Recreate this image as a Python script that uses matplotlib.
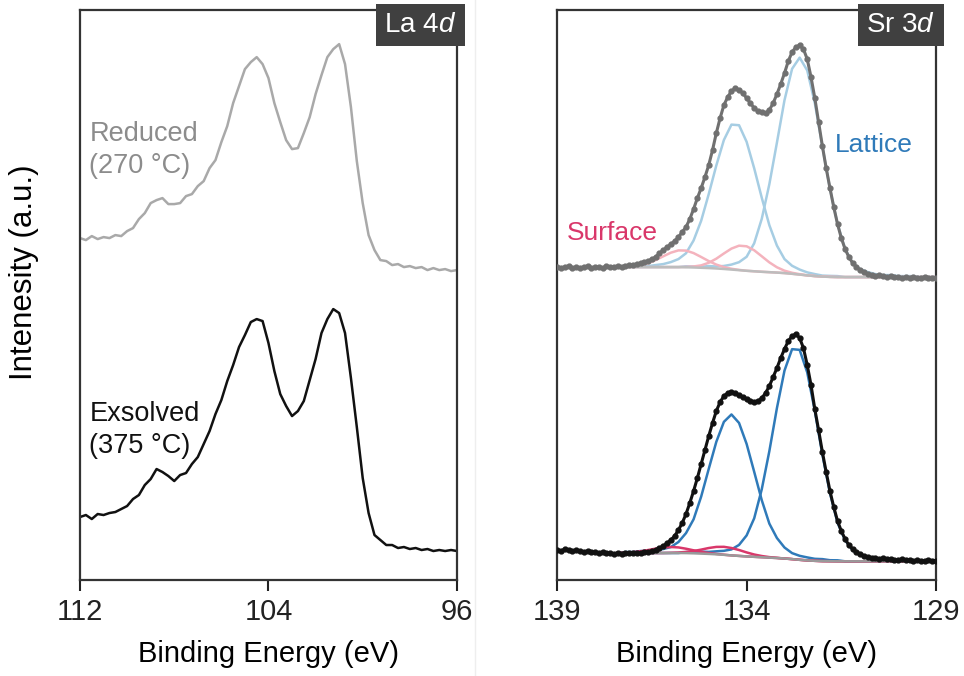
import numpy as np
import matplotlib.pyplot as plt
from matplotlib.lines import Line2D

plt.rcParams['font.family'] = ['Liberation Sans', 'DejaVu Sans']
plt.rcParams['mathtext.fontset'] = 'custom'
plt.rcParams['mathtext.rm'] = 'Liberation Sans'
plt.rcParams['mathtext.it'] = 'Liberation Sans:italic'

# ---- La 4d (left panel), binding energy grid 112 -> 96 eV, step 0.25
la_reduced = [342, 340, 344, 341, 343, 342, 345, 344, 349, 352,
              361, 367, 377, 380, 382, 376, 376, 377, 384, 386,
              394, 399, 412, 420, 438, 454, 477, 494, 511, 518,
              523, 516, 502, 477, 458, 440, 431, 432, 447, 463,
              486, 505, 523, 531, 536, 516, 473, 419, 377, 345,
              330, 320, 319, 315, 316, 313, 314, 312, 313, 310,
              312, 310, 311, 309, 310]
la_exsolved = [63, 65, 61, 66, 65, 67, 68, 71, 74, 81,
               85, 95, 101, 111, 108, 104, 99, 105, 107, 116,
               123, 136, 149, 166, 180, 199, 215, 233, 245, 258,
               261, 259, 237, 209, 186, 174, 164, 169, 179, 200,
               221, 247, 261, 271, 267, 247, 202, 153, 102, 67,
               45, 40, 35, 35, 32, 33, 31, 32, 30, 31,
               29, 30, 29, 30, 29]
la_be = np.round(112 - 0.25 * np.arange(len(la_reduced)), 2)

# ---- Sr 3d (right panel), measured points 139 -> 129 eV, step 0.1
sr_reduced = [313, 312, 313, 314, 312, 313, 312, 313, 314, 312,
              313, 313, 312, 314, 313, 313, 314, 313, 314, 315,
              315, 316, 317, 318, 319, 321, 323, 327, 330, 333,
              336, 339, 343, 348, 353, 361, 371, 382, 392, 403,
              415, 430, 447, 462, 475, 483, 489, 492, 490, 487,
              482, 477, 472, 469, 468, 467, 470, 477, 486, 496,
              507, 519, 528, 533, 535, 531, 521, 503, 482, 458,
              434, 412, 392, 373, 356, 342, 331, 323, 317, 313,
              310, 308, 306, 305, 304, 305, 304, 303, 304, 303,
              303, 302, 303, 302, 303, 302, 302, 303, 302, 302,
              302]
sr_exsolved = [30, 29, 31, 30, 29, 30, 29, 28, 29, 28,
               28, 27, 28, 27, 27, 26, 27, 26, 27, 27,
               27, 27, 27, 28, 28, 29, 30, 32, 34, 37,
               40, 44, 50, 57, 66, 77, 89, 102, 116, 130,
               144, 157, 169, 178, 184, 187, 188, 187, 185, 183,
               181, 179, 178, 179, 182, 187, 194, 203, 212, 222,
               231, 239, 244, 246, 242, 232, 215, 195, 171, 150,
               128, 108, 89, 73, 59, 49, 41, 35, 31, 28,
               26, 24, 23, 22, 22, 21, 22, 21, 21, 20,
               20, 21, 20, 20, 19, 20, 19, 19, 20, 19,
               19]
sr_be = np.round(139.0 - 0.1 * np.arange(len(sr_reduced)), 1)

# fitted components, 137.4 -> 129.0 eV, step 0.2 (heights above background)
top_bg = [313] * 9 + [312.8, 312.6, 312.3, 312, 311.6, 311.1, 310.5, 309.9, 309.3, 308.8,
                      308.3, 307.9, 307.5, 307, 306.3, 305.5, 304.7, 304, 303.5, 303.2,
                      303] + [303] * 13
top_lat1 = [0] * 9 + [1, 1, 1, 2, 2, 3, 5, 8, 14, 28, 53, 88, 130, 173, 205, 217,
                      205, 173, 130, 88, 53, 28, 14, 8, 5, 3, 2, 2, 1, 1, 1, 0, 0, 0]
top_lat2 = [0, 0, 1, 1, 1, 2, 3, 5, 8, 14, 27, 47, 74, 103, 129, 145, 145, 129, 103, 74,
            47, 27, 14, 8, 5, 3, 2, 1, 1, 1] + [0] * 13
top_surf1 = [0] * 9 + [0.4, 1, 2.4, 5.3, 9.8, 15.5, 21, 24.5, 24.5, 21, 15.5, 9.8, 5.3,
                       2.4, 1, 0.4] + [0] * 18
top_surf2 = [0.1, 0.3, 0.8, 1.9, 3.9, 7, 10.8, 14.4, 16.7, 16.7, 14.4, 10.8, 7, 3.9,
             1.9, 0.8, 0.3] + [0] * 26

bot_bg = [27] * 9 + [26.9, 26.7, 26.4, 26.1, 25.7, 25.2, 24.6, 24.1, 23.6, 23.2,
                     22.8, 22.4, 22.0, 21.5, 20.9, 20.2, 19.6, 19.2, 18.9, 18.8,
                     18.7] + [18.7] * 13
bot_lat1 = [0] * 9 + [1, 1, 2, 2, 3, 4, 6, 11, 21, 38.5, 68, 106.5, 150, 188, 210, 210,
                      188, 150, 106.5, 68, 38.5, 21, 11, 6, 4, 3, 2, 2, 1, 1, 0, 0, 0, 0]
bot_lat2 = [0, 1, 1, 2, 2, 3, 4, 6, 11, 20, 34, 57, 85, 112.5, 133, 141, 133, 112.5, 85, 57,
            34, 20, 11, 6, 4, 3, 2, 2, 1, 1] + [0] * 13
bot_surf1 = [0] * 7 + [0.2, 0.5, 1.2, 2.3, 4, 5.9, 7.4, 8, 7.4, 5.9, 4, 2.3, 1.2, 0.5,
                       0.2] + [0] * 21
bot_surf2 = [0.1, 0.4, 0.9, 1.7, 3, 4.4, 5.6, 6, 5.6, 4.4, 3, 1.7, 0.9, 0.4, 0.1] + [0] * 28
fit_be = np.round(137.4 - 0.2 * np.arange(len(top_bg)), 1)


def style_axis(ax, xlim, ticks):
    ax.set_xlim(xlim)
    ax.set_ylim(0, 570)
    ax.set_xticks(ticks)
    ax.set_yticks([])
    ax.tick_params(axis='x', direction='out', length=8, width=1.5, labelsize=21,
                   pad=5, colors='#222222')
    for s in ax.spines.values():
        s.set_linewidth(1.6)
        s.set_color('#333333')
    ax.set_xlabel('Binding Energy (eV)', fontsize=21, labelpad=10)


def panel_tag(ax, txt):
    ax.text(0.998, 0.997, txt, transform=ax.transAxes, ha='right', va='top',
            fontsize=20, color='white',
            bbox=dict(boxstyle='square,pad=0.3', fc='#404040', ec='none'))


fig = plt.figure(figsize=(9.64, 6.76), dpi=100)
ax1 = fig.add_axes([0.083, 0.142, 0.391, 0.843])
ax2 = fig.add_axes([0.578, 0.142, 0.393, 0.843])

# left panel
ax1.plot(la_be, la_reduced, color='#a9a9a9', lw=1.8)
ax1.plot(la_be, la_exsolved, color='#111111', lw=1.8)
ax1.text(111.6, 430, 'Reduced\n(270 °C)', color='#8c8c8c', fontsize=19.5,
         ha='left', va='center', linespacing=1.3)
ax1.text(111.6, 150, 'Exsolved\n(375 °C)', color='#111111', fontsize=19.5,
         ha='left', va='center', linespacing=1.3)
style_axis(ax1, (112, 96), [112, 104, 96])
ax1.set_ylabel('Intenesity (a.u.)', fontsize=22.5)
ax1.yaxis.set_label_coords(-0.11, 0.54)
panel_tag(ax1, 'La 4$\\mathit{d}$')

# right panel
tb = np.array(top_bg)
bb = np.array(bot_bg)
ax2.plot(fit_be, tb + np.array(top_lat1), color='#a6cde3', lw=1.8)
ax2.plot(fit_be, tb + np.array(top_lat2), color='#a6cde3', lw=1.8)
ax2.plot(fit_be, tb + np.array(top_surf1), color='#f4b3bd', lw=1.8)
ax2.plot(fit_be, tb + np.array(top_surf2), color='#f4b3bd', lw=1.8)
ax2.plot(fit_be, tb, color='#bdbdbd', lw=1.8)
ax2.plot(sr_be, sr_reduced, color='#707070', lw=2.2, marker='o', ms=3.5, zorder=3)

ax2.plot(fit_be, bb + np.array(bot_lat1), color='#2f7ab9', lw=1.8)
ax2.plot(fit_be, bb + np.array(bot_lat2), color='#2f7ab9', lw=1.8)
ax2.plot(fit_be, bb + np.array(bot_surf1), color='#d9376a', lw=1.8)
ax2.plot(fit_be, bb + np.array(bot_surf2), color='#d9376a', lw=1.8)
ax2.plot(fit_be, bb, color='#9a9a9a', lw=1.8)
ax2.plot(sr_be, sr_exsolved, color='#111111', lw=2.2, marker='o', ms=3.5, zorder=3)

ax2.text(131.67, 435, 'Lattice', color='#2f7ab9', fontsize=19, ha='left', va='center')
ax2.text(138.74, 347, 'Surface', color='#d9376a', fontsize=19, ha='left', va='center')
style_axis(ax2, (139, 129), [139, 134, 129])
panel_tag(ax2, 'Sr 3$\\mathit{d}$')

fig.add_artist(Line2D([0.493, 0.493], [0.0, 1.0], transform=fig.transFigure,
                      color='#eeeeee', lw=1))

fig.savefig('out.png', dpi=100)
